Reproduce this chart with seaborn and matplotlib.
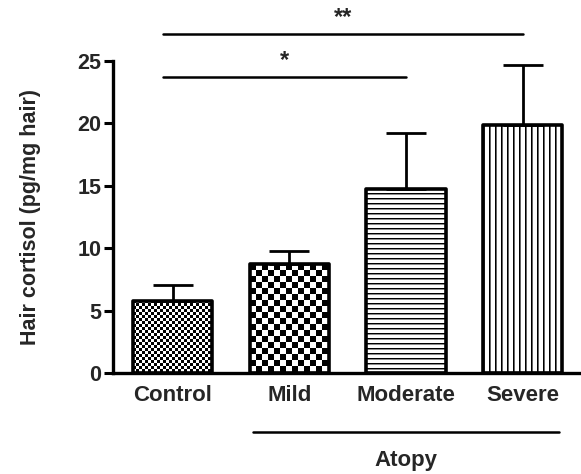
import numpy as np
import matplotlib
matplotlib.use("Agg")
import matplotlib.pyplot as plt
import seaborn as sns
from matplotlib.transforms import blended_transform_factory

# ---- data ----
categories = ["Control", "Mild", "Moderate", "Severe"]
means = [5.8, 8.7, 14.75, 19.9]
sems = [1.25, 1.1, 4.45, 4.8]
yticks = [0, 5, 10, 15, 20, 25]
ylabel = "Hair cortisol (pg/mg hair)"
group_label = "Atopy"
comparisons = [(0, 2, "*"), (0, 3, "**")]
comparison_levels = [23.75, 27.2]

sns.set_theme(style="ticks")
plt.rcParams['font.family'] = ['Liberation Sans', 'DejaVu Sans']
plt.rcParams['font.weight'] = 'bold'

fig = plt.figure(figsize=(5.81, 4.74), dpi=100)
ax = fig.add_axes([0.1945, 0.2131, 0.8038, 0.6582])

sns.barplot(x=categories, y=means, errorbar=None, width=0.68, color="white",
            edgecolor="black", linewidth=2.6, ax=ax, zorder=2)
for p in ax.patches:
    p.set_facecolor("none")
    p.set_zorder(2)
    p.set_joinstyle("round")

x = np.arange(len(categories))
ax.errorbar(x, means, yerr=[np.zeros(len(sems)), sems], fmt="none",
            ecolor="black", elinewidth=2.0, capsize=14.4, capthick=2.0, zorder=3)

ax.set_xlim(-0.51, 3.49)
ax.set_ylim(0, 25)
ax.set_yticks(yticks)
ax.set_yticklabels([str(t) for t in yticks], fontsize=15.5, fontweight="bold")
ax.set_xticks(x)
ax.set_xticklabels(categories, fontsize=16, fontweight="bold")
ax.tick_params(axis="y", length=6.5, width=2.2, pad=2, color="black")
ax.tick_params(axis="x", length=0, pad=9)
ax.set_ylabel(ylabel, fontsize=15.5, fontweight="bold", labelpad=26)
ax.set_xlabel("")
for s in ["top", "right"]:
    ax.spines[s].set_visible(False)
for s in ["left", "bottom"]:
    ax.spines[s].set_linewidth(2.4)
    ax.spines[s].set_color("black")

# ---- fill patterns ----
fig.canvas.draw()
renderer = fig.canvas.get_renderer()
styles = ["fine", "coarse", "hlines", "vlines"]
for p, st in zip(ax.patches, styles):
    bb = p.get_window_extent(renderer)
    w_px, h_px = int(np.ceil(bb.width)), int(np.ceil(bb.height))
    ii, jj = np.mgrid[0:h_px, 0:w_px]
    if st == "fine":
        arr = ((ii // 3 + jj // 3) % 2).astype(float)
    elif st == "coarse":
        arr = ((ii // 6 + jj // 6) % 2).astype(float)
    elif st == "hlines":
        prof = np.array([0.0, 0.55, 1.0, 1.0, 1.0])
        arr = prof[ii % 5]
    else:
        prof = np.array([0.0, 0.4, 1.0, 1.0, 1.0, 1.0])
        arr = prof[jj % 6]
    x0 = p.get_x(); w = p.get_width(); h = p.get_height()
    im = ax.imshow(arr, extent=(x0, x0 + w, 0, h), cmap="gray", vmin=0, vmax=1,
                   interpolation="nearest", aspect="auto", zorder=1, origin="upper")
    im.set_clip_path(p)

ax.set_xlim(-0.51, 3.49)
ax.set_ylim(0, 25)

# ---- significance lines ----
for (i, j, lab), lev in zip(comparisons, comparison_levels):
    ax.plot([i - 0.08, j], [lev, lev], color="black", lw=1.8, clip_on=False)
    ax.text((i - 0.08 + j) / 2, lev + 0.35, lab, ha="center", va="bottom",
            fontsize=17, fontweight="bold", clip_on=False)

# ---- group line ----
tr = blended_transform_factory(ax.transData, fig.transFigure)
ax.plot([0.69, 3.31], [0.0886, 0.0886], color="black", lw=1.8,
        transform=tr, clip_on=False)
ax.text(2.0, 0.029, group_label, transform=tr, ha="center", va="center",
        fontsize=16, fontweight="bold")

fig.savefig("out.png", dpi=100)
